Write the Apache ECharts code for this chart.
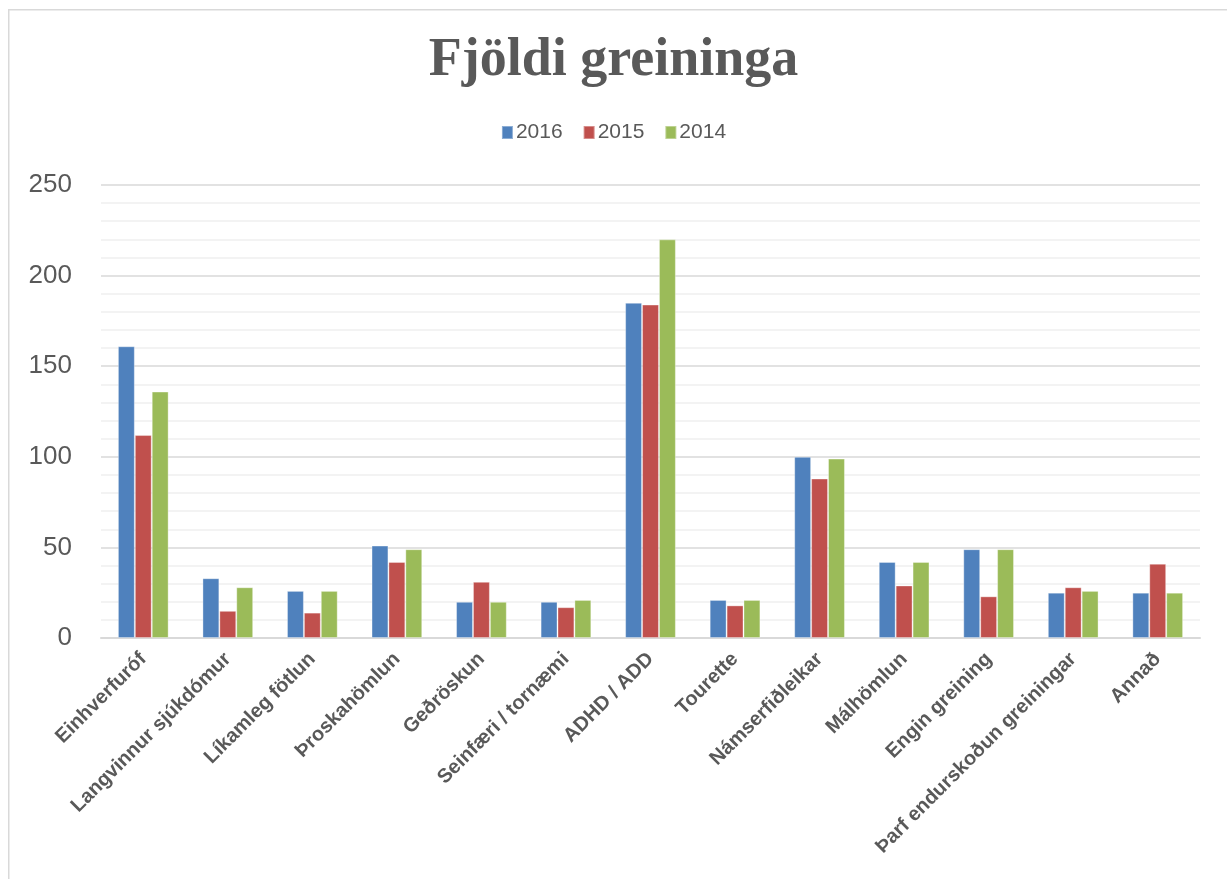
<!DOCTYPE html>
<html>
<head>
<meta charset="utf-8">
<script src="https://cdn.jsdelivr.net/npm/echarts@6/dist/echarts.min.js"></script>
<style>
html,body{margin:0;padding:0;background:#fff;}
#chart{width:1227px;height:879px;}
</style>
</head>
<body>
<div id="chart"></div>
<script>
const categories = ['Einhverfuróf','Langvinnur sjúkdómur','Líkamleg fötlun','Þroskahömlun','Geðröskun','Seinfæri / tornæmi','ADHD / ADD','Tourette','Námserfiðleikar','Málhömlun','Engin greining','Þarf endurskoðun greiningar','Annað'];
const s2016 = [161, 33, 26, 51, 20, 20, 185, 21, 100, 42, 49, 25, 25];
const s2015 = [112, 15, 14, 42, 31, 17, 184, 18, 88, 29, 23, 28, 41];
const s2014 = [136, 28, 26, 49, 20, 21, 220, 21, 99, 42, 49, 26, 25];
const seriesNames = ['2016','2015','2014'];
const colors = ['#4F81BD','#C0504D','#9BBB59'];

const chart = echarts.init(document.getElementById('chart'));
const mk = (name, data, c) => ({
  name, type: 'bar', data, barGap: '0%', barCategoryGap: '40%',
  itemStyle: { color: c, borderColor: 'rgba(255,255,255,0.35)', borderWidth: 1 }
});
chart.setOption({
  animation: false,
  color: colors,
  graphic: [{
    type: 'rect', left: 8, top: 9, z: -1,
    shape: { width: 1400, height: 1000 },
    style: { fill: '#fff', stroke: '#d9d9d9', lineWidth: 1.5 }
  }],
  title: {
    text: 'Fjöldi greininga', left: 'center', top: 29,
    textStyle: { fontFamily: 'Liberation Serif', fontWeight: 'bold', fontSize: 54, color: '#595959' }
  },
  legend: {
    top: 117, left: 'center', itemWidth: 11, itemHeight: 13, itemGap: 20,
    icon: 'rect',
    textStyle: { fontFamily: 'Liberation Sans', fontSize: 21, color: '#595959', padding: [0,0,0,-2] },
    data: seriesNames
  },
  grid: { left: 101, right: 27, top: 185, bottom: 241, containLabel: false },
  xAxis: {
    type: 'category', data: categories,
    axisLine: { lineStyle: { color: '#d9d9d9', width: 2 } },
    axisTick: { show: false },
    axisLabel: { rotate: 45, interval: 0, margin: 18, fontFamily: 'Liberation Sans', fontWeight: 'bold', fontSize: 20, color: '#595959' }
  },
  yAxis: {
    type: 'value', min: 0, max: 250, interval: 50,
    axisLine: { show: false }, axisTick: { show: false },
    axisLabel: { margin: 29, fontFamily: 'Liberation Sans', fontSize: 26, color: '#595959' },
    splitLine: { lineStyle: { color: '#d9d9d9', width: 1.5 } },
    minorTick: { show: false, splitNumber: 5 },
    minorSplitLine: { show: true, lineStyle: { color: '#f0f0f0', width: 1.5 } }
  },
  series: [mk(seriesNames[0], s2016, colors[0]), mk(seriesNames[1], s2015, colors[1]), mk(seriesNames[2], s2014, colors[2])]
});
</script>
</body>
</html>
